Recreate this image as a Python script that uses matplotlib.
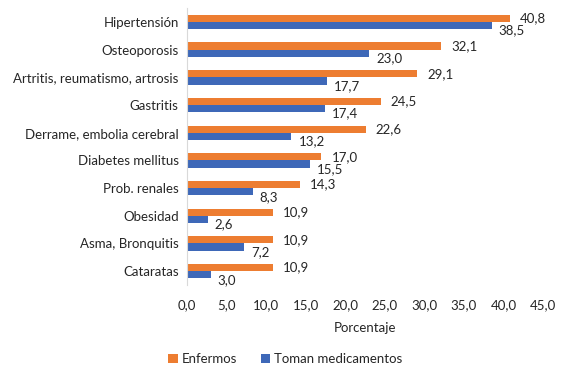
import matplotlib
matplotlib.use("Agg")
import matplotlib.pyplot as plt
import numpy as np

categories = ["Hipertensión", "Osteoporosis", "Artritis, reumatismo, artrosis", "Gastritis",
              "Derrame, embolia cerebral", "Diabetes mellitus", "Prob. renales", "Obesidad",
              "Asma, Bronquitis", "Cataratas"]
enfermos = [40.8, 32.1, 29.1, 24.5, 22.6, 17.0, 14.3, 10.9, 10.9, 10.9]
toman = [38.5, 23.0, 17.7, 17.4, 13.2, 15.5, 8.3, 2.6, 7.2, 3.0]
xticks = [0, 5, 10, 15, 20, 25, 30, 35, 40, 45]

plt.rcParams['font.family'] = ['Lato', 'DejaVu Sans']
orange = "#ED7D31"
blue = "#3E68B8"
txt = "#262626"

fig = plt.figure(figsize=(5.65, 3.68), dpi=100)
ax = fig.add_axes([0.331, 0.2255, 0.63, 0.7525])

y = np.arange(len(categories))
h = 0.26
ax.barh(y - h / 2, enfermos, height=h, color=orange, label="Enfermos")
ax.barh(y + h / 2, toman, height=h, color=blue, label="Toman medicamentos")

def fmt(v):
    return f"{v:.1f}".replace(".", ",")

for yi, v in zip(y, enfermos):
    ax.annotate(fmt(v), (v, yi - h / 2), xytext=(10, 0), textcoords="offset pixels",
                ha="left", va="center", fontsize=9.5, color=txt)
for yi, v in zip(y, toman):
    ax.annotate(fmt(v), (v, yi + h / 2), xytext=(7, -5), textcoords="offset pixels",
                ha="left", va="center", fontsize=9.5, color=txt)

ax.set_ylim(len(categories) - 0.5, -0.5)
ax.set_xlim(0, 45)
ax.set_yticks(y)
ax.set_yticklabels(categories, fontsize=9.5, color=txt)
ax.set_xticks(xticks)
ax.set_xticklabels([fmt(t) for t in xticks], fontsize=9.5, color=txt)
ax.tick_params(axis="both", length=0)
ax.tick_params(axis="y", pad=6)
ax.tick_params(axis="x", pad=10)
for s in ["top", "right", "bottom"]:
    ax.spines[s].set_visible(False)
ax.spines["left"].set_color("#d9d9d9")
ax.set_xlabel("Porcentaje", fontsize=9.5, color=txt, labelpad=8)

fig.legend(loc="lower center", bbox_to_anchor=(0.505, -0.025), ncol=2, frameon=False,
           fontsize=9.5, handlelength=0.7, handleheight=0.7, handletextpad=0.3,
           columnspacing=1.8, labelcolor=txt)

fig.savefig("out.png", dpi=100)
